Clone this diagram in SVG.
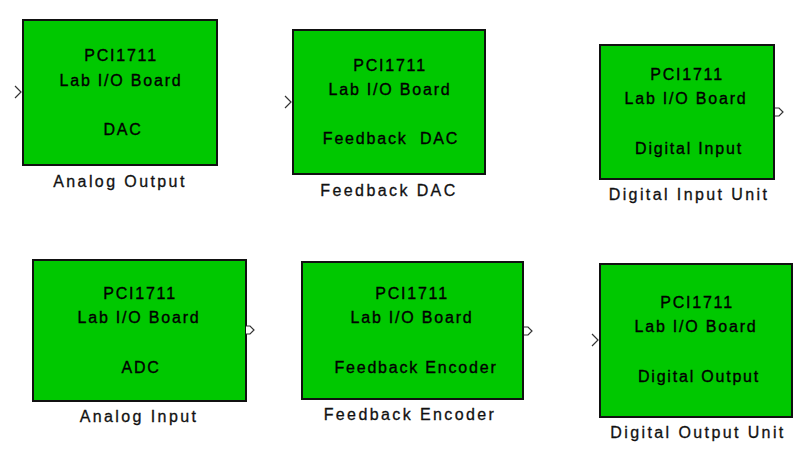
<svg xmlns="http://www.w3.org/2000/svg" width="799" height="450" viewBox="0 0 799 450">
<defs>
<style>
.blk{fill:#00C800;stroke:#111;stroke-width:2}
.t{font-family:"Liberation Sans",Arial,sans-serif;font-size:16px;letter-spacing:1.8px;text-anchor:middle;fill:#000;stroke:#000;stroke-width:0.35;white-space:pre}
.lbl{font-family:"Liberation Sans",Arial,sans-serif;font-size:16px;letter-spacing:2.4px;text-anchor:middle;fill:#111;stroke:#111;stroke-width:0.3}
.in{fill:none;stroke:#333;stroke-width:1.2}
.out{fill:#fff;stroke:#333;stroke-width:1.2}
</style>
<path id="outport" d="M0,-4 L4,-4 L8,0 L4,4 L0,4"/>
</defs>
<rect width="799" height="450" fill="#fff"/>
<g id="connectors"/>
<g id="analog-output">
<rect class="blk" x="23" y="20" width="194" height="145"/>
<polyline class="in" points="15,86 21,92 15,98"/>
<text class="t" x="121" y="61">PCI1711</text>
<text class="t" x="121" y="86">Lab I/O Board</text>
<text class="t" x="123" y="135">DAC</text>
<text class="lbl" x="120" y="187">Analog Output</text>
</g>
<g id="feedback-dac">
<rect class="blk" x="293" y="30" width="192" height="144"/>
<polyline class="in" points="285,96 291,102 285,108"/>
<text class="t" x="390" y="71">PCI1711</text>
<text class="t" x="390" y="95">Lab I/O Board</text>
<text class="t" x="391" y="144">Feedback  DAC</text>
<text class="lbl" x="389" y="196">Feedback DAC</text>
</g>
<g id="digital-input-unit">
<rect class="blk" x="600" y="45" width="174" height="134"/>
<use href="#outport" class="out" transform="translate(775,112)"/>
<text class="t" x="687" y="80">PCI1711</text>
<text class="t" x="686" y="104">Lab I/O Board</text>
<text class="t" x="689" y="154">Digital Input</text>
<text class="lbl" x="689" y="200">Digital Input Unit</text>
</g>
<g id="analog-input">
<rect class="blk" x="33" y="260" width="213" height="141"/>
<use href="#outport" class="out" transform="translate(246,330)"/>
<text class="t" x="140" y="299">PCI1711</text>
<text class="t" x="139" y="323">Lab I/O Board</text>
<text class="t" x="141" y="373">ADC</text>
<text class="lbl" x="139" y="422">Analog Input</text>
</g>
<g id="feedback-encoder">
<rect class="blk" x="302" y="262" width="221" height="137"/>
<use href="#outport" class="out" transform="translate(524,331)"/>
<text class="t" x="412" y="299">PCI1711</text>
<text class="t" x="412" y="323">Lab I/O Board</text>
<text class="t" x="416" y="373">Feedback Encoder</text>
<text class="lbl" x="410" y="420">Feedback Encoder</text>
</g>
<g id="digital-output-unit">
<rect class="blk" x="600" y="264" width="192" height="153"/>
<polyline class="in" points="592,334 598,340 592,346"/>
<text class="t" x="697" y="308">PCI1711</text>
<text class="t" x="696" y="332">Lab I/O Board</text>
<text class="t" x="699" y="382">Digital Output</text>
<text class="lbl" x="698" y="438">Digital Output Unit</text>
</g>
</svg>
